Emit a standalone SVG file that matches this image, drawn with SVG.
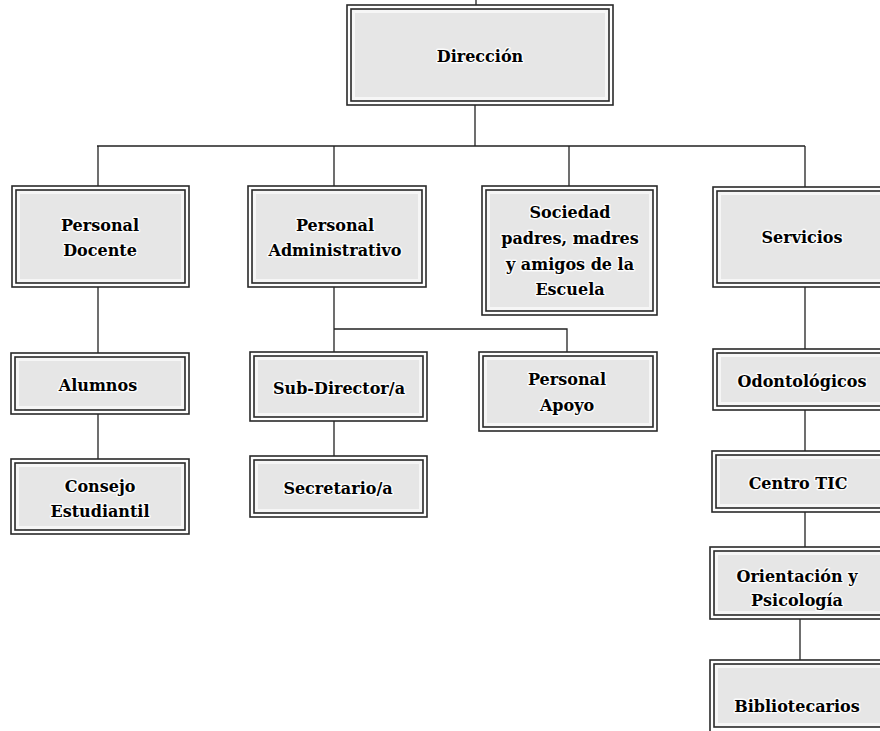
<svg xmlns="http://www.w3.org/2000/svg" width="880" height="731" viewBox="0 0 880 731">
<style>
.o{fill:#ffffff;stroke:#2a2a2a;stroke-width:1.6}
.i{fill:#e6e6e6;stroke:#2a2a2a;stroke-width:1.6}
.g{fill:none;stroke:#f6f6f6;stroke-width:3}
.t{font-family:"DejaVu Serif",serif;font-weight:bold;font-size:16px;fill:#000;text-anchor:middle;stroke:#ffffff;stroke-width:3;stroke-opacity:0.85;paint-order:stroke;stroke-linejoin:round}
.c{fill:none;stroke:#222;stroke-width:1.3}
</style>
<rect width="880" height="731" fill="#ffffff"/>
<g id="connectors">
<path class="c" d="M476 0V6 M475 105V146 M97 146H805 M98 146V186 M334 146V186 M569 146V186 M805 146V187 M98 287V353 M98 414V459 M334 287V329 H567 V352 M334 329V352 M334 421V456 M805 287V349 M805 410V451 M805 512V547 M800 619V660 M797 728V731"/>
</g>
<g id="direccion">
<rect class="o" x="347" y="5" width="266" height="100"/><rect class="i" x="351" y="9" width="258" height="92"/><rect class="g" x="353.5" y="11.5" width="253" height="87"/>
<text class="t" x="480" y="62">Dirección</text>
</g>
<g id="personal-docente">
<rect class="o" x="12" y="186" width="177" height="101"/><rect class="i" x="16" y="190" width="169" height="93"/><rect class="g" x="18.5" y="192.5" width="164" height="88"/>
<text class="t" x="100" y="231">Personal</text><text class="t" x="100" y="256">Docente</text>
</g>
<g id="personal-administrativo">
<rect class="o" x="248" y="186" width="178" height="101"/><rect class="i" x="252" y="190" width="170" height="93"/><rect class="g" x="254.5" y="192.5" width="165" height="88"/>
<text class="t" x="335" y="231">Personal</text><text class="t" x="335" y="256">Administrativo</text>
</g>
<g id="sociedad">
<rect class="o" x="482" y="186" width="175" height="129"/><rect class="i" x="486" y="190" width="167" height="121"/><rect class="g" x="488.5" y="192.5" width="162" height="116"/>
<text class="t" x="570" y="218">Sociedad</text><text class="t" x="570" y="244">padres, madres</text><text class="t" x="570" y="270">y amigos de la</text><text class="t" x="570" y="295">Escuela</text>
</g>
<g id="servicios">
<rect class="o" x="713" y="187" width="178" height="100"/><rect class="i" x="717" y="191" width="170" height="92"/><rect class="g" x="719.5" y="193.5" width="165" height="87"/>
<text class="t" x="802" y="243">Servicios</text>
</g>
<g id="alumnos">
<rect class="o" x="11" y="353" width="178" height="61"/><rect class="i" x="15" y="357" width="170" height="53"/><rect class="g" x="17.5" y="359.5" width="165" height="48"/>
<text class="t" x="98" y="391">Alumnos</text>
</g>
<g id="consejo-estudiantil">
<rect class="o" x="11" y="459" width="178" height="75"/><rect class="i" x="15" y="463" width="170" height="67"/><rect class="g" x="17.5" y="465.5" width="165" height="62"/>
<text class="t" x="100" y="492">Consejo</text><text class="t" x="100" y="517">Estudiantil</text>
</g>
<g id="sub-director">
<rect class="o" x="250" y="352" width="177" height="69"/><rect class="i" x="254" y="356" width="169" height="61"/><rect class="g" x="256.5" y="358.5" width="164" height="56"/>
<text class="t" x="339" y="394">Sub-Director/a</text>
</g>
<g id="secretario">
<rect class="o" x="250" y="456" width="177" height="61"/><rect class="i" x="254" y="460" width="169" height="53"/><rect class="g" x="256.5" y="462.5" width="164" height="48"/>
<text class="t" x="338" y="494">Secretario/a</text>
</g>
<g id="personal-apoyo">
<rect class="o" x="479" y="352" width="178" height="79"/><rect class="i" x="483" y="356" width="170" height="71"/><rect class="g" x="485.5" y="358.5" width="165" height="66"/>
<text class="t" x="567" y="385">Personal</text><text class="t" x="567" y="411">Apoyo</text>
</g>
<g id="odontologicos">
<rect class="o" x="713" y="349" width="178" height="61"/><rect class="i" x="717" y="353" width="170" height="53"/><rect class="g" x="719.5" y="355.5" width="165" height="48"/>
<text class="t" x="802" y="387">Odontológicos</text>
</g>
<g id="centro-tic">
<rect class="o" x="712" y="451" width="178" height="61"/><rect class="i" x="716" y="455" width="170" height="53"/><rect class="g" x="718.5" y="457.5" width="165" height="48"/>
<text class="t" x="798" y="489">Centro TIC</text>
</g>
<g id="orientacion">
<rect class="o" x="710" y="547" width="178" height="72"/><rect class="i" x="714" y="551" width="170" height="64"/><rect class="g" x="716.5" y="553.5" width="165" height="59"/>
<text class="t" x="797" y="582">Orientación y</text><text class="t" x="797" y="606">Psicología</text>
</g>
<g id="bibliotecarios">
<rect class="o" x="710" y="660" width="178" height="74"/><rect class="i" x="714" y="664" width="170" height="63"/><rect class="g" x="716.5" y="666.5" width="165" height="58"/>
<text class="t" x="797" y="712">Bibliotecarios</text>
</g>
</svg>
